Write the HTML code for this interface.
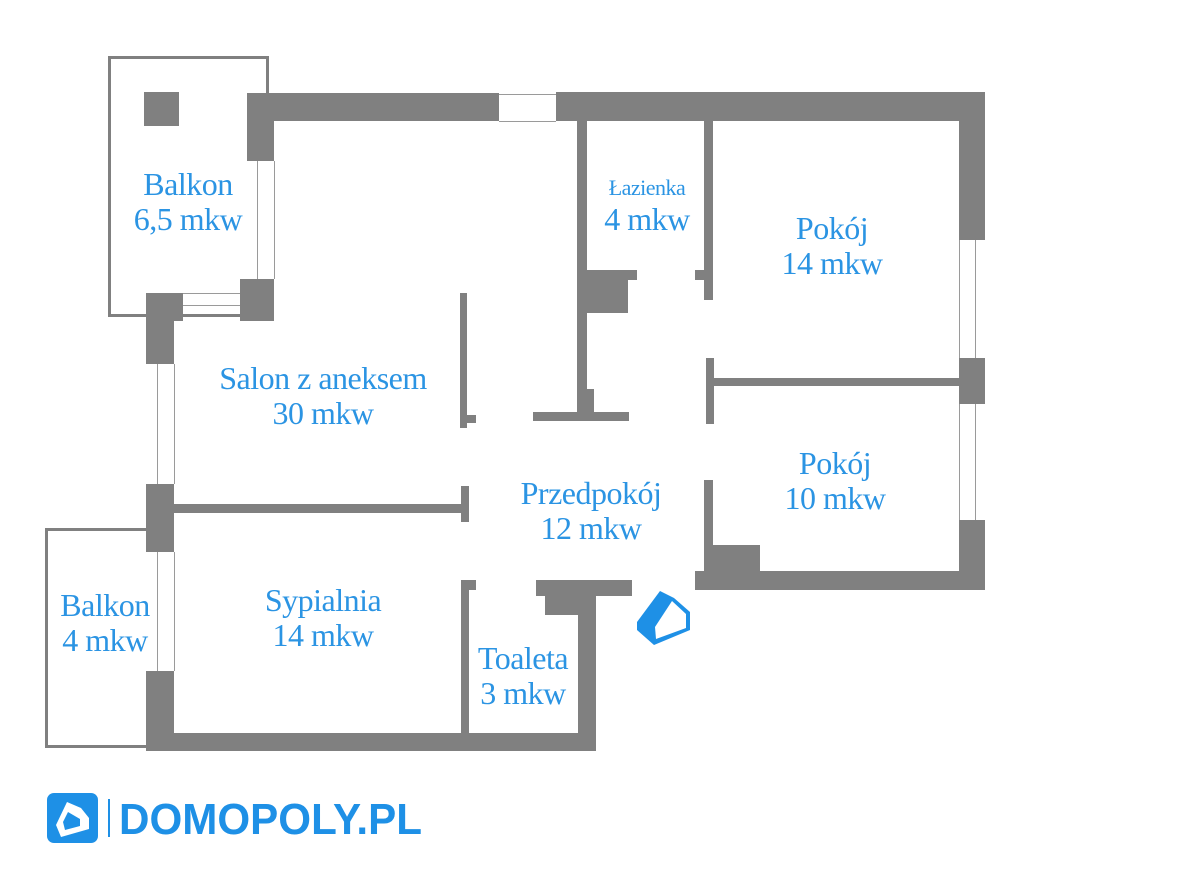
<!DOCTYPE html>
<html><head><meta charset="utf-8"><style>
body{margin:0;width:1200px;height:874px;background:#fff;position:relative;overflow:hidden}
.w{position:absolute;background:#808080}
.l{position:absolute;border:0 solid #9a9a9a}
.t{position:absolute;transform:translateX(-50%);font-family:"Liberation Serif",serif;color:#2b94e3;font-size:32px;line-height:35px;text-align:center;white-space:nowrap;letter-spacing:-0.5px}
</style></head><body>
<!-- top balcony -->
<div style="position:absolute;left:108px;top:56px;width:155px;height:255px;border:3px solid #808080"></div>
<div style="position:absolute;left:264px;top:161px;width:10px;height:118px;background:#fff"></div>
<div class="w" style="left:144px;top:92px;width:35px;height:34px"></div>
<!-- top walls -->
<div class="w" style="left:247px;top:93px;width:252px;height:28px"></div>
<div class="w" style="left:247px;top:93px;width:27px;height:68px"></div>
<div class="l" style="left:499px;top:94px;width:57px;height:26px;border-top-width:1px;border-bottom-width:1px"></div>
<div class="w" style="left:556px;top:92px;width:429px;height:29px"></div>
<div class="w" style="left:959px;top:92px;width:26px;height:148px"></div>
<div class="l" style="left:959px;top:240px;width:15px;height:118px;border-left-width:1px;border-right-width:1px"></div>
<div class="w" style="left:959px;top:358px;width:26px;height:46px"></div>
<div class="l" style="left:959px;top:404px;width:15px;height:116px;border-left-width:1px;border-right-width:1px"></div>
<div class="w" style="left:959px;top:520px;width:26px;height:70px"></div>
<div class="w" style="left:695px;top:571px;width:290px;height:19px"></div>
<div class="w" style="left:704px;top:545px;width:56px;height:30px"></div>
<div class="w" style="left:704px;top:480px;width:9px;height:95px"></div>
<div class="w" style="left:706px;top:378px;width:254px;height:8px"></div>
<div class="w" style="left:706px;top:358px;width:8px;height:66px"></div>
<div class="w" style="left:704px;top:120px;width:9px;height:180px"></div>
<div class="w" style="left:695px;top:270px;width:12px;height:10px"></div>
<!-- lazienka -->
<div class="w" style="left:577px;top:120px;width:10px;height:297px"></div>
<div class="w" style="left:587px;top:270px;width:50px;height:10px"></div>
<div class="w" style="left:587px;top:270px;width:41px;height:43px"></div>
<div class="w" style="left:577px;top:389px;width:17px;height:25px"></div>
<div class="w" style="left:533px;top:412px;width:96px;height:9px"></div>
<!-- salon divider -->
<div class="w" style="left:460px;top:293px;width:7px;height:135px"></div>
<div class="w" style="left:460px;top:415px;width:16px;height:8px"></div>
<!-- balcony bottom pillars -->
<div class="l" style="left:257px;top:161px;width:16px;height:118px;border-left-width:1px;border-right-width:1px"></div>
<div class="w" style="left:240px;top:279px;width:34px;height:42px"></div>
<div class="l" style="left:183px;top:293px;width:57px;height:11px;border-top-width:1px;border-bottom-width:1px"></div>
<div class="w" style="left:146px;top:293px;width:37px;height:28px"></div>
<div class="w" style="left:146px;top:293px;width:28px;height:71px"></div>
<div class="l" style="left:157px;top:364px;width:16px;height:120px;border-left-width:1px;border-right-width:1px"></div>
<div class="w" style="left:146px;top:484px;width:28px;height:68px"></div>
<div class="w" style="left:174px;top:504px;width:293px;height:9px"></div>
<div class="w" style="left:461px;top:486px;width:8px;height:36px"></div>
<!-- bottom balcony -->
<div style="position:absolute;left:45px;top:528px;width:99px;height:214px;border:3px solid #808080;border-right:none"></div>
<div class="l" style="left:157px;top:552px;width:16px;height:119px;border-left-width:1px;border-right-width:1px"></div>
<div class="w" style="left:146px;top:671px;width:28px;height:80px"></div>
<div class="w" style="left:146px;top:733px;width:450px;height:18px"></div>
<!-- toilet -->
<div class="w" style="left:461px;top:580px;width:8px;height:155px"></div>
<div class="w" style="left:461px;top:580px;width:15px;height:10px"></div>
<div class="w" style="left:578px;top:580px;width:18px;height:171px"></div>
<div class="w" style="left:536px;top:580px;width:96px;height:16px"></div>
<div class="w" style="left:545px;top:580px;width:33px;height:35px"></div>
<!-- entrance icon -->
<svg style="position:absolute;left:0;top:0" width="1200" height="874">
<polygon points="660,591 674,598 690,612 690,630 654,645 637,630 637,622" fill="#1e90e6"/>
<polygon points="672,601 686,614 686,628 656,639 655,627" fill="#fff"/>
<!-- logo -->
<rect x="47" y="793" width="51" height="50" rx="7" fill="#1e90e6"/>
<polygon points="67,802 81,808 89,818 89,829 61,837 56,825" fill="#fff"/>
<polygon points="68,812 80,819 80,826 65,830 63,822" fill="#1e90e6"/>
<rect x="108" y="799" width="2" height="38" fill="#1e90e6"/>
<text x="119" y="834" font-family="Liberation Sans, sans-serif" font-weight="bold" font-size="44" fill="#1e90e6" textLength="303" lengthAdjust="spacingAndGlyphs">DOMOPOLY.PL</text>
</svg>
<!-- labels -->
<div class="t" style="left:188px;top:167px">Balkon<br>6,5 mkw</div>
<div class="t" style="left:323px;top:361px">Salon z aneksem<br>30 mkw</div>
<div class="t" style="left:647px;top:175px;font-size:22px;line-height:26px">Łazienka</div>
<div class="t" style="left:647px;top:202px">4 mkw</div>
<div class="t" style="left:832px;top:211px">Pokój<br>14 mkw</div>
<div class="t" style="left:835px;top:446px">Pokój<br>10 mkw</div>
<div class="t" style="left:591px;top:476px">Przedpokój<br>12 mkw</div>
<div class="t" style="left:323px;top:583px">Sypialnia<br>14 mkw</div>
<div class="t" style="left:105px;top:588px">Balkon<br>4 mkw</div>
<div class="t" style="left:523px;top:641px">Toaleta<br>3 mkw</div>
</body></html>
